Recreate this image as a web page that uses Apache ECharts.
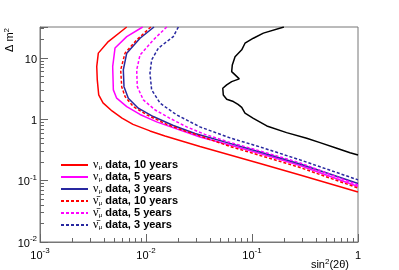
<!DOCTYPE html>
<html><head><meta charset="utf-8">
<script src="https://cdn.jsdelivr.net/npm/echarts@6/dist/echarts.min.js"></script>
<style>html,body{margin:0;padding:0;background:#fff}#c{width:399px;height:270px}</style>
</head><body><div id="c"></div>
<script>
// ---- data (sin^2(2θ), Δm^2) ----
const nuMu10 = [[0.00658,32],[0.00441,18.5],[0.00355,12.0],[0.00343,7.24],[0.00347,4.39],[0.00358,2.50],[0.00393,1.85],[0.00478,1.37],[0.00594,1.05],[0.00754,0.826],[0.0109,0.647],[0.0151,0.536],[0.0209,0.453],[0.0323,0.361],[0.0620,0.262],[0.119,0.191],[0.284,0.124],[1.0,0.0655]];
const nuMu5 = [[0.00931,32],[0.00658,22.3],[0.00510,14.5],[0.00485,7.24],[0.00492,3.02],[0.00529,2.21],[0.00658,1.61],[0.00878,1.20],[0.0126,0.908],[0.0188,0.711],[0.0323,0.516],[0.0620,0.382],[0.119,0.278],[0.284,0.177],[1.0,0.0804]];
const nuMu3 = [[0.0119,32],[0.00878,21.0],[0.00658,12.0],[0.00611,6.40],[0.00620,3.41],[0.00681,2.21],[0.00846,1.52],[0.0117,1.11],[0.0181,0.794],[0.0290,0.589],[0.0620,0.405],[0.119,0.294],[0.284,0.187],[1.0,0.0899]];
const nuBar10 = [[0.0111,32],[0.00817,19.7],[0.00634,12.0],[0.00577,6.40],[0.00590,3.41],[0.00634,2.35],[0.00759,1.61],[0.0102,1.18],[0.0157,0.826],[0.0233,0.647],[0.0323,0.536],[0.0620,0.361],[0.119,0.258],[0.284,0.164],[1.0,0.0760]];
const nuBar5 = [[0.0157,32],[0.0117,19.7],[0.00878,11.2],[0.00817,6.40],[0.00828,3.41],[0.00944,2.07],[0.0122,1.42],[0.0168,1.04],[0.0242,0.752],[0.0360,0.568],[0.0620,0.420],[0.119,0.305],[0.284,0.195],[1.0,0.0851]];
const nuBar3 = [[0.0202,32],[0.0181,22.3],[0.0131,14.5],[0.0113,9.31],[0.0109,5.65],[0.0113,3.02],[0.0136,1.83],[0.0195,1.18],[0.0323,0.752],[0.0620,0.498],[0.119,0.355],[0.284,0.218],[1.0,0.103]];
const allowed = [[0.200,32],[0.128,25.4],[0.103,21.0],[0.0859,17.4],[0.0800,13.6],[0.0692,10.5],[0.0652,7.71],[0.0643,6.00],[0.0759,4.56],[0.0643,4.12],[0.0577,3.64],[0.0530,3.21],[0.0536,2.50],[0.0577,2.13],[0.0667,1.95],[0.0738,1.75],[0.0800,1.57],[0.0859,1.26],[0.103,1.04],[0.138,0.780],[0.212,0.607],[0.328,0.492],[0.438,0.417],[0.630,0.338],[0.841,0.286],[1.0,0.262]];

const seriesNames = ['ν_μ data, 10 years','ν_μ data, 5 years','ν_μ data, 3 years','anti-ν_μ data, 10 years','anti-ν_μ data, 5 years','anti-ν_μ data, 3 years'];
const legendTexts = [' data, 10 years',' data, 5 years',' data, 3 years',' data, 10 years',' data, 5 years',' data, 3 years'];

const xTickValues = [0.001, 0.01, 0.1, 1];
const xTickLabels = ['10^-3','10^-2','10^-1','1'];
const yTickValues = [0.01, 0.1, 1, 10];
const yTickLabels = ['10^-2','10^-1','1','10'];
const xMin = 0.001, xMax = 1, yMin = 0.01, yMax = 32;

// ---- helpers ----
function richLabel(s){
  const p = s.split('^');
  return p.length > 1 ? '{b|' + p[0] + '}{s|' + p[1] + '}' : '{b|' + s + '}';
}
function labelFor(vals, labs){
  return function(v){
    for (let i = 0; i < vals.length; i++) {
      if (Math.abs(Math.log10(v) - Math.log10(vals[i])) < 1e-6) return richLabel(labs[i]);
    }
    return '';
  };
}
function minorTicks(lo, hi){
  const out = [];
  for (let n = Math.floor(Math.log10(lo)); n <= Math.ceil(Math.log10(hi)); n++) {
    for (let k = 2; k <= 9; k++) {
      const e = Math.log10(k) + n;
      if (e > Math.log10(lo) && e < Math.log10(hi)) out.push(e);
    }
  }
  return out;
}
const FONT = 'Liberation Sans';
const tickRich = {
  b: {fontSize: 11, fontFamily: FONT, color: '#000', lineHeight: 14, verticalAlign: 'bottom'},
  s: {fontSize: 8, fontFamily: FONT, color: '#000', lineHeight: 8, verticalAlign: 'top'}
};
const axisGray = '#777';
const tickGray = '#666';

const colors = ['#ff0000','#ff00ff','#2828a0','#ff0000','#ff00ff','#2828a0'];
const datasets = [nuMu10, nuMu5, nuMu3, nuBar10, nuBar5, nuBar3];

const series = datasets.map((d, i) => ({
  name: seriesNames[i], type: 'line', data: d, symbol: 'none', smooth: false,
  xAxisIndex: 0, yAxisIndex: 0, clip: true,
  lineStyle: {color: colors[i], width: 1.5, type: i >= 3 ? [3, 2] : 'solid'},
  itemStyle: {color: colors[i]}
}));
series.push({
  name: 'allowed', type: 'line', data: allowed, symbol: 'none', xAxisIndex: 0, yAxisIndex: 0, clip: true,
  lineStyle: {color: '#000', width: 1.5}, itemStyle: {color: '#000'}
});

const chart = echarts.init(document.getElementById('c'), null, {renderer: 'canvas'});
chart.setOption({
  animation: false,
  backgroundColor: '#fff',
  grid: {left: 40, right: 41, top: 27, bottom: 28, show: true, borderColor: axisGray, borderWidth: 1, backgroundColor: 'transparent'},
  xAxis: [{
    type: 'log', logBase: 10, min: xMin, max: xMax, position: 'bottom',
    axisLine: {show: true, onZero: false, lineStyle: {color: axisGray, width: 1}},
    axisTick: {show: true, inside: true, length: 8, lineStyle: {color: tickGray}},
    axisLabel: {show: true, margin: 5, formatter: labelFor(xTickValues, xTickLabels), rich: tickRich, showMinLabel: true, showMaxLabel: true},
    splitLine: {show: false}, minorTick: {show: false}
  }, {
    type: 'value', min: Math.log10(xMin), max: Math.log10(xMax), position: 'bottom',
    axisLine: {show: false, onZero: false},
    axisTick: {show: true, inside: true, length: 4, customValues: minorTicks(xMin, xMax), lineStyle: {color: tickGray}},
    axisLabel: {show: false}, splitLine: {show: false}
  }],
  yAxis: [{
    type: 'log', logBase: 10, min: yMin, max: yMax, position: 'left',
    axisLine: {show: true, onZero: false, lineStyle: {color: axisGray, width: 1}},
    axisTick: {show: true, inside: true, length: 8, lineStyle: {color: tickGray}},
    axisLabel: {show: true, margin: 3, formatter: labelFor(yTickValues, yTickLabels), rich: tickRich},
    splitLine: {show: false}, minorTick: {show: false}
  }, {
    type: 'value', min: Math.log10(yMin), max: Math.log10(yMax), position: 'left',
    axisLine: {show: false, onZero: false},
    axisTick: {show: true, inside: true, length: 4, customValues: minorTicks(yMin, yMax), lineStyle: {color: tickGray}},
    axisLabel: {show: false}, splitLine: {show: false}
  }],
  legend: {
    data: seriesNames, orient: 'vertical', left: 55, top: 154,
    itemWidth: 27, itemHeight: 10, itemGap: 0, selectedMode: false,
    itemStyle: {opacity: 0},
    formatter: function(name){
      const i = seriesNames.indexOf(name);
      const nu = i >= 3 ? 'ν\u0304' : 'ν';
      return '{n|' + nu + '}{u|μ}{t|' + legendTexts[i] + '}';
    },
    textStyle: {
      rich: {
        n: {fontSize: 12, fontFamily: 'Liberation Serif', color: '#000', lineHeight: 12},
        u: {fontSize: 7, fontFamily: 'Liberation Serif', color: '#000', lineHeight: 7, verticalAlign: 'bottom'},
        t: {fontSize: 11, fontFamily: FONT, fontWeight: 'bold', color: '#000', lineHeight: 12}
      }
    }
  },
  graphic: [
    {type: 'text', x: 349, y: 264, style: {
      text: '{a|sin}{s|2}{a|(2θ)}', align: 'right', verticalAlign: 'middle',
      rich: {a: {fontSize: 11, fontFamily: FONT, fill: '#000', lineHeight: 13, verticalAlign: 'bottom'},
             s: {fontSize: 8, fontFamily: FONT, fill: '#000', lineHeight: 8, verticalAlign: 'top'}}
    }},
    {type: 'text', x: 9, y: 52, rotation: Math.PI / 2, style: {
      text: '{a|Δ m}{s|2}', align: 'left', verticalAlign: 'middle',
      rich: {a: {fontSize: 11, fontFamily: FONT, fill: '#000', lineHeight: 13, verticalAlign: 'bottom'},
             s: {fontSize: 8, fontFamily: FONT, fill: '#000', lineHeight: 8, verticalAlign: 'top'}}
    }}
  ],
  series: series
});
</script></body></html>
